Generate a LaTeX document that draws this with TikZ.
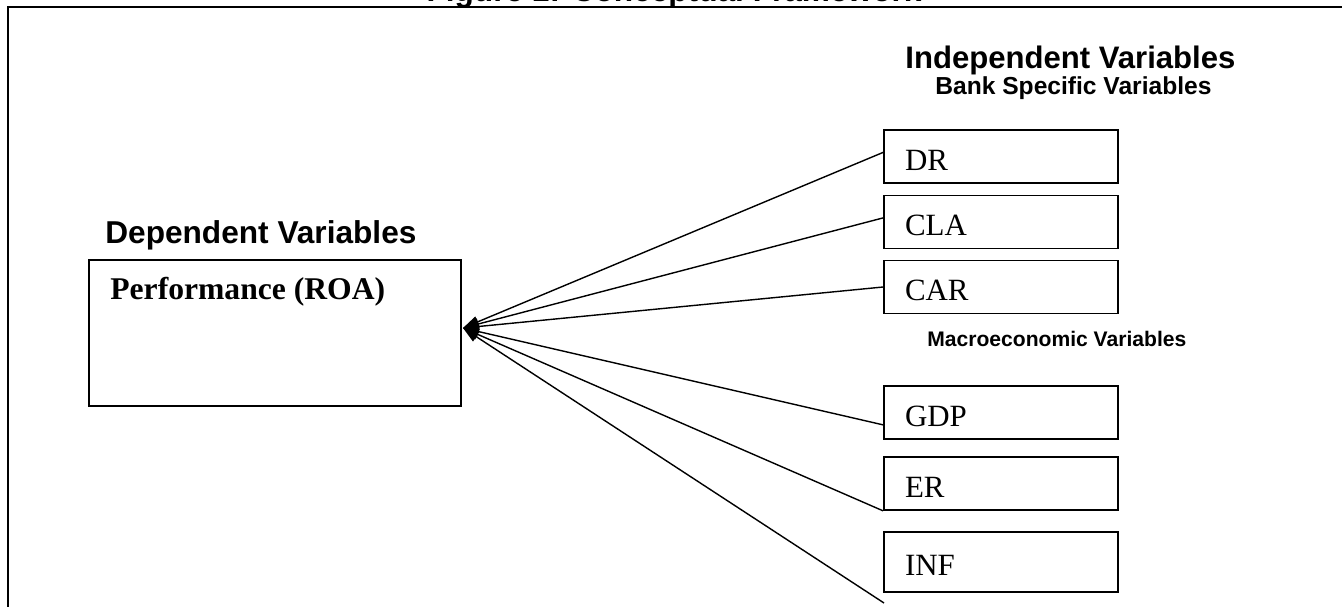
\documentclass[tikz,border=0pt]{standalone}
\usepackage{fontspec}
\setmainfont{Liberation Serif}
\setsansfont{Liberation Sans}
\usetikzlibrary{arrows.meta}

\begin{document}
\begin{tikzpicture}[x=0.02cm, y=-0.02cm,
  varbox/.style={draw, line width=1pt, inner xsep=0.42cm, text width=3.84cm, align=left,
    minimum height=1.06cm, text height=0.56cm, text depth=0pt,
    font=\fontsize{17.6}{20}\selectfont},
  link/.style={line width=0.8pt, -{Triangle[length=9pt,width=6.5pt]}},
  heading/.style={anchor=base west, inner sep=0pt, font=\sffamily\bfseries\fontsize{18}{21}\selectfont}]
\useasboundingbox (0,0) rectangle (1342,607);
% frame, title cut off at the top
\node[heading, anchor=base] (title) at (674,1.5) {Figure 1: Conceptual Framework};
\draw[line width=1.4pt] (1360,7) -- (8,7) -- (8,620);
% dependent side
\node[heading] (deplabel) at (105,244) {Dependent Variables};
\node[draw, line width=1pt, minimum width=7.44cm, minimum height=2.92cm] (roa) at (275,333) {};
\node[anchor=base west, inner sep=0pt, font=\bfseries\fontsize{18}{21}\selectfont] (roatext) at (110,300) {Performance (ROA)};
% independent side
\node[heading, font=\sffamily\bfseries\fontsize{17.7}{21}\selectfont] (indlabel) at (905,69) {Independent Variables};
\node[heading, font=\sffamily\bfseries\fontsize{14}{16}\selectfont] (banklabel) at (935,95) {Bank Specific Variables};
\node[heading, font=\sffamily\bfseries\fontsize{12}{14}\selectfont] (macrolabel) at (927,347) {Macroeconomic Variables};
\node[varbox] (dr) at (1001,156.5) {DR};
\node[varbox] (cla) at (1001,222) {CLA};
\node[varbox] (car) at (1001,287) {CAR};
\node[varbox] (gdp) at (1001,412.5) {GDP};
\node[varbox] (er) at (1001,483.5) {ER};
\node[varbox, minimum height=1.2cm] (inf) at (1001,562) {INF};
% arrows into the performance box
\coordinate (hub) at (463,328);
\coordinate (infend) at (884,603);
\foreach \src in {dr.178, cla.178, car.west, gdp.186, er.south west, infend}
  \draw[link] (\src) -- (hub);
\end{tikzpicture}
\end{document}
